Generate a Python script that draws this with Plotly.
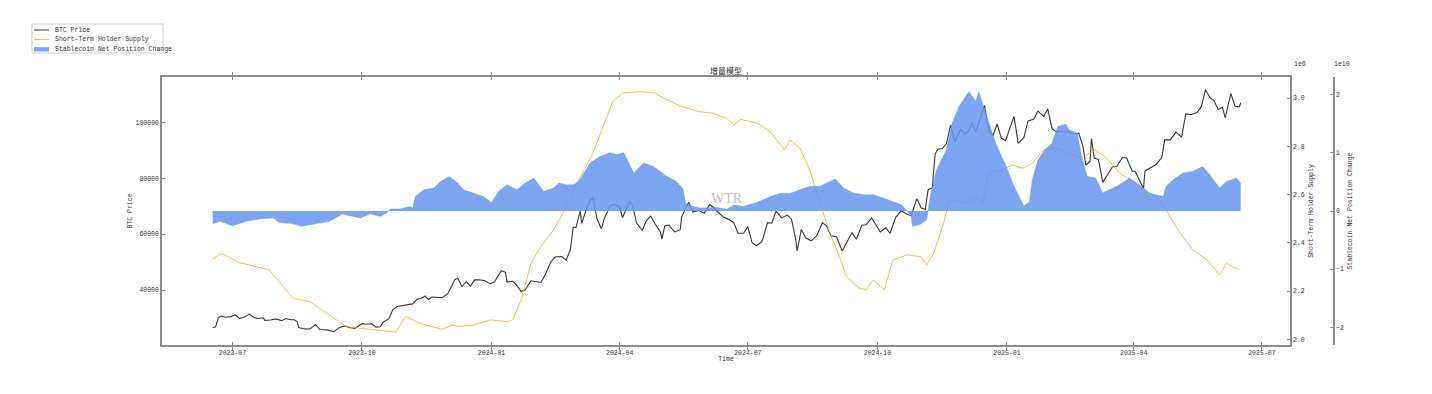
import plotly.graph_objects as go

# ---------------- data ----------------
btc_dates = [
    "2023-06-17", "2023-06-19", "2023-06-21", "2023-06-23", "2023-06-26", "2023-06-30",
    "2023-07-03", "2023-07-06", "2023-07-09", "2023-07-13", "2023-07-16", "2023-07-19",
    "2023-07-23", "2023-07-24", "2023-07-28", "2023-08-01", "2023-08-05", "2023-08-08",
    "2023-08-11", "2023-08-14", "2023-08-16", "2023-08-17", "2023-08-21", "2023-08-25",
    "2023-08-29", "2023-09-01", "2023-09-06", "2023-09-11", "2023-09-15", "2023-09-19",
    "2023-09-22", "2023-09-26", "2023-10-01", "2023-10-04", "2023-10-08", "2023-10-11",
    "2023-10-14", "2023-10-16", "2023-10-20", "2023-10-23", "2023-10-26", "2023-10-30",
    "2023-11-02", "2023-11-06", "2023-11-09", "2023-11-12", "2023-11-15", "2023-11-17",
    "2023-11-20", "2023-11-23", "2023-11-27", "2023-12-01", "2023-12-04", "2023-12-06",
    "2023-12-08", "2023-12-11", "2023-12-14", "2023-12-17", "2023-12-20", "2023-12-23",
    "2023-12-27", "2023-12-31", "2024-01-03", "2024-01-08", "2024-01-11", "2024-01-12",
    "2024-01-16", "2024-01-19", "2024-01-22", "2024-01-25", "2024-01-29", "2024-02-01",
    "2024-02-05", "2024-02-08", "2024-02-12", "2024-02-15", "2024-02-20", "2024-02-23",
    "2024-02-26", "2024-02-28", "2024-03-01", "2024-03-04", "2024-03-05", "2024-03-08",
    "2024-03-11", "2024-03-13", "2024-03-16", "2024-03-19", "2024-03-21", "2024-03-25",
    "2024-03-28", "2024-04-01", "2024-04-03", "2024-04-08", "2024-04-10", "2024-04-13",
    "2024-04-17", "2024-04-20", "2024-04-23", "2024-04-26", "2024-04-30", "2024-05-01",
    "2024-05-03", "2024-05-06", "2024-05-10", "2024-05-14", "2024-05-15", "2024-05-20",
    "2024-05-23", "2024-05-27", "2024-05-31", "2024-06-04", "2024-06-07", "2024-06-11",
    "2024-06-14", "2024-06-18", "2024-06-21", "2024-06-24", "2024-06-28", "2024-07-01",
    "2024-07-04", "2024-07-07", "2024-07-11", "2024-07-15", "2024-07-18", "2024-07-21",
    "2024-07-25", "2024-07-29", "2024-08-01", "2024-08-04", "2024-08-05", "2024-08-08",
    "2024-08-11", "2024-08-15", "2024-08-19", "2024-08-23", "2024-08-26", "2024-08-29",
    "2024-09-02", "2024-09-06", "2024-09-09", "2024-09-13", "2024-09-16", "2024-09-20",
    "2024-09-23", "2024-09-27", "2024-09-30", "2024-10-03", "2024-10-07", "2024-10-10",
    "2024-10-14", "2024-10-18", "2024-10-21", "2024-10-25", "2024-10-29", "2024-11-01",
    "2024-11-04", "2024-11-06", "2024-11-09", "2024-11-11", "2024-11-13", "2024-11-16",
    "2024-11-19", "2024-11-22", "2024-11-25", "2024-11-29", "2024-12-02", "2024-12-05",
    "2024-12-07", "2024-12-10", "2024-12-13", "2024-12-16", "2024-12-19", "2024-12-22",
    "2024-12-25", "2024-12-28", "2024-12-31", "2025-01-03", "2025-01-06", "2025-01-09",
    "2025-01-13", "2025-01-16", "2025-01-20", "2025-01-23", "2025-01-27", "2025-01-30",
    "2025-02-02", "2025-02-05", "2025-02-09", "2025-02-13", "2025-02-17", "2025-02-21",
    "2025-02-24", "2025-02-26", "2025-03-01", "2025-03-02", "2025-03-04", "2025-03-07",
    "2025-03-10", "2025-03-13", "2025-03-17", "2025-03-20", "2025-03-24", "2025-03-27",
    "2025-03-31", "2025-04-02", "2025-04-06", "2025-04-08", "2025-04-09", "2025-04-13",
    "2025-04-17", "2025-04-21", "2025-04-23", "2025-04-27", "2025-05-01", "2025-05-05",
    "2025-05-08", "2025-05-12", "2025-05-16", "2025-05-19", "2025-05-22", "2025-05-25",
    "2025-05-28", "2025-05-31", "2025-06-03", "2025-06-05", "2025-06-09", "2025-06-12",
    "2025-06-15", "2025-06-16",
]
btc_price = [
    26500, 26850, 30000, 30700, 30300, 30500,
    31150, 29900, 30170, 31400, 30300, 29850,
    30080, 29180, 29300, 29700, 29050, 29800,
    29400, 29400, 28700, 26600, 26100, 26050,
    27700, 25900, 25750, 25100, 26600, 27200,
    26580, 26300, 27980, 27780, 27950, 26750,
    26860, 28500, 29700, 33000, 34150, 34500,
    34950, 35050, 36700, 37050, 37880, 36600,
    37500, 37300, 37250, 38700, 41980, 43800,
    44200, 41250, 43000, 41400, 43650, 43700,
    43450, 42280, 42850, 46950, 46350, 42850,
    43150, 41650, 39500, 40080, 43300, 43100,
    42700, 45300, 49950, 51800, 52000, 50700,
    54500, 62500, 62400, 68300, 63800, 68300,
    72100, 73100, 65300, 61900, 65500, 69950,
    70750, 69700, 65950, 71600, 70600, 64000,
    61300, 64900, 66400, 63800, 60650, 58250,
    62900, 63200, 60800, 61600, 66200, 71400,
    67900, 68500, 67500, 70550, 69350, 67300,
    66000, 65150, 64100, 60300, 60300, 62700,
    57000, 55850, 57300, 64100, 63900, 68200,
    65800, 66800, 65350, 58100, 54000, 61700,
    58700, 57600, 59500, 64100, 62900, 59400,
    59100, 53950, 57000, 60550, 58200, 63200,
    63350, 65800, 63300, 60750, 62300, 60300,
    66000, 68350, 67400, 66600, 72700, 69400,
    68800, 75850, 76600, 88700, 90400, 90600,
    92300, 98950, 93000, 97450, 95900, 96950,
    99900, 96600, 101400, 106050, 97500, 95100,
    99400, 94300, 93400, 98100, 102100, 92500,
    94500, 100500, 101100, 104000, 102100, 104700,
    97700, 96600, 96500, 96600, 95800, 96100,
    91400, 84700, 86000, 94200, 87200, 86700,
    78500, 80900, 84100, 84200, 87500, 87200,
    82500, 82500, 78400, 76300, 82600, 83700,
    84900, 87500, 93700, 93700, 96500, 94700,
    103000, 102800, 103500, 105600, 111700, 108900,
    107800, 104600, 105400, 101600, 110300, 105700,
    105500, 107000,
]

sth_dates = [
    "2023-06-17", "2023-06-23", "2023-07-06", "2023-07-13", "2023-07-20", "2023-07-27",
    "2023-08-08", "2023-08-13", "2023-08-25", "2023-09-01", "2023-09-10", "2023-09-20",
    "2023-09-29", "2023-10-11", "2023-10-21", "2023-10-25", "2023-11-01", "2023-11-11",
    "2023-11-27", "2023-12-04", "2023-12-09", "2023-12-19", "2023-12-31", "2024-01-12",
    "2024-01-16", "2024-01-22", "2024-01-29", "2024-02-05", "2024-02-14", "2024-02-23",
    "2024-03-03", "2024-03-13", "2024-03-23", "2024-03-27", "2024-04-03", "2024-04-15",
    "2024-04-25", "2024-05-04", "2024-05-14", "2024-05-28", "2024-06-06", "2024-06-16",
    "2024-06-21", "2024-06-26", "2024-07-08", "2024-07-17", "2024-07-27", "2024-07-31",
    "2024-08-07", "2024-08-14", "2024-08-21", "2024-08-28", "2024-09-04", "2024-09-09",
    "2024-09-18", "2024-09-23", "2024-09-28", "2024-10-06", "2024-10-12", "2024-10-22",
    "2024-11-01", "2024-11-05", "2024-11-10", "2024-11-17", "2024-11-21", "2024-12-03",
    "2024-12-10", "2024-12-15", "2024-12-19", "2024-12-29", "2025-01-05", "2025-01-12",
    "2025-01-19", "2025-01-27", "2025-02-03", "2025-02-12", "2025-02-22", "2025-03-05",
    "2025-03-13", "2025-03-22", "2025-04-01", "2025-04-08", "2025-04-17", "2025-04-24",
    "2025-05-04", "2025-05-13", "2025-05-23", "2025-06-01", "2025-06-06", "2025-06-10",
    "2025-06-15",
]
sth_supply = [
    2332000, 2357000, 2318000, 2308000, 2299000, 2288000,
    2205000, 2170000, 2156000, 2129000, 2094000, 2052000,
    2046000, 2039000, 2032000, 2030000, 2094000, 2066000,
    2041000, 2059000, 2052000, 2059000, 2080000, 2073000,
    2080000, 2163000, 2315000, 2384000, 2453000, 2550000,
    2661000, 2772000, 2924000, 2986000, 3021000, 3027000,
    3023000, 2995000, 2968000, 2944000, 2938000, 2917000,
    2889000, 2912000, 2896000, 2861000, 2785000, 2827000,
    2793000, 2702000, 2570000, 2447000, 2343000, 2260000,
    2212000, 2205000, 2246000, 2205000, 2329000, 2350000,
    2343000, 2308000, 2357000, 2481000, 2578000, 2564000,
    2585000, 2564000, 2689000, 2703000, 2723000, 2709000,
    2730000, 2785000, 2793000, 2778000, 2751000, 2785000,
    2751000, 2689000, 2654000, 2620000, 2592000, 2537000,
    2440000, 2371000, 2329000, 2267000, 2315000, 2301000,
    2288000,
]

stable_dates = [
    "2023-06-17", "2023-06-22", "2023-07-01", "2023-07-11", "2023-07-20", "2023-07-30",
    "2023-08-03", "2023-08-13", "2023-08-19", "2023-08-30", "2023-09-08", "2023-09-17",
    "2023-09-25", "2023-09-30", "2023-10-07", "2023-10-14", "2023-10-19", "2023-10-21",
    "2023-10-28", "2023-11-04", "2023-11-06", "2023-11-08", "2023-11-14", "2023-11-21",
    "2023-11-26", "2023-12-02", "2023-12-08", "2023-12-12", "2023-12-19", "2023-12-26",
    "2024-01-01", "2024-01-06", "2024-01-12", "2024-01-19", "2024-01-25", "2024-01-31",
    "2024-02-07", "2024-02-14", "2024-02-18", "2024-02-23", "2024-02-28", "2024-03-03",
    "2024-03-11", "2024-03-18", "2024-03-25", "2024-03-30", "2024-04-04", "2024-04-11",
    "2024-04-18", "2024-04-25", "2024-05-04", "2024-05-11", "2024-05-16", "2024-05-18",
    "2024-05-23", "2024-05-28", "2024-06-09", "2024-06-16", "2024-06-21", "2024-06-28",
    "2024-07-08", "2024-07-17", "2024-07-24", "2024-07-31", "2024-08-07", "2024-08-14",
    "2024-08-21", "2024-08-26", "2024-09-01", "2024-09-07", "2024-09-14", "2024-09-21",
    "2024-09-28", "2024-10-05", "2024-10-12", "2024-10-18", "2024-10-22", "2024-10-25",
    "2024-10-26", "2024-10-31", "2024-11-05", "2024-11-06", "2024-11-08", "2024-11-12",
    "2024-11-19", "2024-11-23", "2024-11-28", "2024-12-05", "2024-12-10", "2024-12-12",
    "2024-12-17", "2024-12-24", "2024-12-27", "2024-12-31", "2025-01-05", "2025-01-10",
    "2025-01-13", "2025-01-17", "2025-01-19", "2025-01-23", "2025-01-28", "2025-02-02",
    "2025-02-06", "2025-02-12", "2025-02-14", "2025-02-20", "2025-02-23", "2025-02-27",
    "2025-03-05", "2025-03-10", "2025-03-17", "2025-03-22", "2025-03-29", "2025-04-03",
    "2025-04-08", "2025-04-12", "2025-04-17", "2025-04-22", "2025-04-24", "2025-04-29",
    "2025-05-06", "2025-05-13", "2025-05-20", "2025-05-25", "2025-06-01", "2025-06-06",
    "2025-06-13", "2025-06-16",
]
stable_change = [
    -0.223e10, -0.178e10, -0.252e10, -0.178e10, -0.137e10, -0.120e10,
    -0.195e10, -0.218e10, -0.264e10, -0.218e10, -0.178e10, -0.051e10,
    -0.093e10, -0.120e10, -0.046e10, -0.093e10, -0.024e10, 0.034e10,
    0.034e10, 0.079e10, 0.050e10, 0.250e10, 0.365e10, 0.395e10,
    0.508e10, 0.593e10, 0.480e10, 0.365e10, 0.308e10, 0.250e10,
    0.148e10, 0.336e10, 0.451e10, 0.365e10, 0.480e10, 0.566e10,
    0.336e10, 0.394e10, 0.480e10, 0.451e10, 0.450e10, 0.508e10,
    0.823e10, 0.937e10, 1.000e10, 0.970e10, 1.000e10, 0.652e10,
    0.823e10, 0.765e10, 0.600e10, 0.510e10, 0.380e10, 0.120e10,
    0.079e10, 0.050e10, 0.060e10, 0.030e10, 0.100e10, 0.080e10,
    0.150e10, 0.250e10, 0.300e10, 0.300e10, 0.365e10, 0.420e10,
    0.420e10, 0.480e10, 0.550e10, 0.394e10, 0.308e10, 0.280e10,
    0.280e10, 0.223e10, 0.165e10, 0.108e10, 0.010e10, -0.093e10,
    -0.264e10, -0.235e10, -0.149e10, 0.000e10, 0.308e10, 0.708e10,
    1.051e10, 1.509e10, 1.794e10, 2.052e10, 1.880e10, 2.050e10,
    1.680e10, 1.166e10, 1.000e10, 0.800e10, 0.480e10, 0.223e10,
    0.080e10, 0.165e10, 0.537e10, 0.880e10, 1.051e10, 1.166e10,
    1.451e10, 1.490e10, 1.394e10, 1.337e10, 0.937e10, 0.594e10,
    0.566e10, 0.308e10, 0.394e10, 0.451e10, 0.566e10, 0.480e10,
    0.394e10, 0.308e10, 0.280e10, 0.250e10, 0.422e10, 0.537e10,
    0.652e10, 0.680e10, 0.765e10, 0.623e10, 0.394e10, 0.508e10,
    0.566e10, 0.480e10,
]

x_tick_dates = ["2023-07-01", "2023-10-01", "2024-01-01", "2024-04-01",
                "2024-07-01", "2024-10-01", "2025-01-01", "2025-04-01", "2025-07-01"]
x_tick_labels = ["2023-07", "2023-10", "2024-01", "2024-04",
                 "2024-07", "2024-10", "2025-01", "2025-04", "2025-07"]
btc_ticks = [40000, 60000, 80000, 100000]
btc_tick_labels = ["40000", "60000", "80000", "100000"]
sth_ticks = [2.0e6, 2.2e6, 2.4e6, 2.6e6, 2.8e6, 3.0e6]
sth_tick_labels = ["2.0", "2.2", "2.4", "2.6", "2.8", "3.0"]
stable_ticks = [-2e10, -1e10, 0, 1e10, 2e10]
stable_tick_labels = ["\u22122", "\u22121", "0", "1", "2"]
legend_names = ["BTC Price", "Short-Term Holder Supply", "Stablecoin Net Position Change"]

# ---------------- layout geometry ----------------
W, H = 1432, 394
L, R, T, B = 162, 80, 77, 49
PW = W - L - R
PH = H - T - B
x_end = (1290 - L) / PW
y3_pos = (1334 - L) / PW


def px(xp):
    return (xp - L) / PW


def py(yp):
    return (H - B - yp) / PH


MONO = "Liberation Mono, DejaVu Sans Mono, monospace"
TXT = "#333333"
SPINE = "#8c8c8c"
BTC_COLOR = "rgba(20,20,20,0.85)"
STH_COLOR = "rgba(255,170,20,0.8)"
STABLE_COLOR = "rgba(100,149,237,0.85)"
tick_font = dict(family=MONO, size=6.5, color=TXT)
title_font = dict(family=MONO, size=6.5, color=TXT)

fig = go.Figure()
fig.add_trace(go.Scatter(
    x=btc_dates, y=btc_price, name=legend_names[0], mode="lines",
    line=dict(color=BTC_COLOR, width=1.1), yaxis="y"))
fig.add_trace(go.Scatter(
    x=sth_dates, y=sth_supply, name=legend_names[1], mode="lines",
    line=dict(color=STH_COLOR, width=1), yaxis="y2"))
fig.add_trace(go.Scatter(
    x=stable_dates, y=stable_change, name=legend_names[2],
    mode="lines", fill="tozeroy",
    line=dict(color=STABLE_COLOR, width=0.5),
    fillcolor=STABLE_COLOR, yaxis="y3"))

axis_common = dict(showgrid=False, zeroline=False, showline=True, automargin=False,
                   linecolor=SPINE, linewidth=1.5, ticks="inside", ticklen=3,
                   tickcolor=SPINE, tickfont=tick_font)

fig.update_layout(
    width=W, height=H,
    margin=dict(l=L, r=R, t=T, b=B, pad=0, autoexpand=False),
    paper_bgcolor="white", plot_bgcolor="white",
    font=dict(family=MONO, size=6.5, color=TXT),
    title=dict(text="增量模型", x=726 / W, xref="container", xanchor="center",
               y=1 - 71 / H, yref="container", yanchor="middle", pad=dict(t=0, b=0),
               font=dict(family="Noto Sans CJK SC", size=8, color=TXT)),
    xaxis=dict(domain=[0, x_end], type="date",
               range=["2023-05-12", "2025-07-21"],
               tickvals=x_tick_dates, ticktext=x_tick_labels,
               mirror="allticks",
               title=dict(text="Time", standoff=1, font=title_font),
               **axis_common),
    yaxis=dict(range=[20350, 116200], tickvals=btc_ticks, ticktext=btc_tick_labels,
               title=dict(text="BTC Price", standoff=2, font=title_font),
               **axis_common),
    yaxis2=dict(overlaying="y", side="right", anchor="x",
                range=[1.976e6, 3.088e6], tickvals=sth_ticks, ticktext=sth_tick_labels,
                title=dict(text="Short-Term Holder Supply", standoff=5, font=title_font),
                **axis_common),
    yaxis3=dict(overlaying="y", side="right", anchor="free", position=y3_pos,
                range=[-2.302e10, 2.302e10], tickvals=stable_ticks,
                ticktext=stable_tick_labels,
                title=dict(text="Stablecoin Net Position Change", standoff=3, font=title_font),
                **axis_common),
    showlegend=False,
)

# ---- legend box (top-left of the figure) ----
shapes = [dict(type="rect", xref="paper", yref="paper",
               x0=px(32), x1=px(163), y0=py(53), y1=py(24),
               line=dict(color="#d0d0d0", width=1), fillcolor="white", layer="above")]
row_y = [30, 39.5, 49.3]
shapes.append(dict(type="line", xref="paper", yref="paper",
                   x0=px(34), x1=px(49), y0=py(row_y[0]), y1=py(row_y[0]),
                   line=dict(color=BTC_COLOR, width=1)))
shapes.append(dict(type="line", xref="paper", yref="paper",
                   x0=px(34), x1=px(49), y0=py(row_y[1]), y1=py(row_y[1]),
                   line=dict(color=STH_COLOR, width=1)))
shapes.append(dict(type="rect", xref="paper", yref="paper",
                   x0=px(34), x1=px(49), y0=py(row_y[2] + 2.2), y1=py(row_y[2] - 2.2),
                   line=dict(width=0), fillcolor=STABLE_COLOR))
fig.update_layout(shapes=shapes)
for name, ry in zip(legend_names, row_y):
    fig.add_annotation(text=name, xref="paper", yref="paper",
                       x=px(53), y=py(ry), xanchor="left", yanchor="middle",
                       showarrow=False, font=dict(family=MONO, size=6.5, color=TXT))

# ---- offset labels of the two right axes ----
fig.add_annotation(text="1e6", xref="paper", yref="paper",
                   x=px(1292), y=py(64), xanchor="left", yanchor="middle",
                   showarrow=False, font=dict(family=MONO, size=6.5, color=TXT))
fig.add_annotation(text="1e10", xref="paper", yref="paper",
                   x=px(1332), y=py(64), xanchor="left", yanchor="middle",
                   showarrow=False, font=dict(family=MONO, size=6.5, color=TXT))

# ---- watermark ----
fig.add_annotation(text="WTR", xref="paper", yref="paper",
                   x=px(727), y=py(198), xanchor="center", yanchor="middle",
                   showarrow=False,
                   font=dict(family="Liberation Serif, DejaVu Serif, serif", size=14,
                             color="rgba(150,150,150,0.6)"))

fig.write_html("out.html", config={"displayModeBar": False},
               post_script="document.body.style.margin='0px';")
